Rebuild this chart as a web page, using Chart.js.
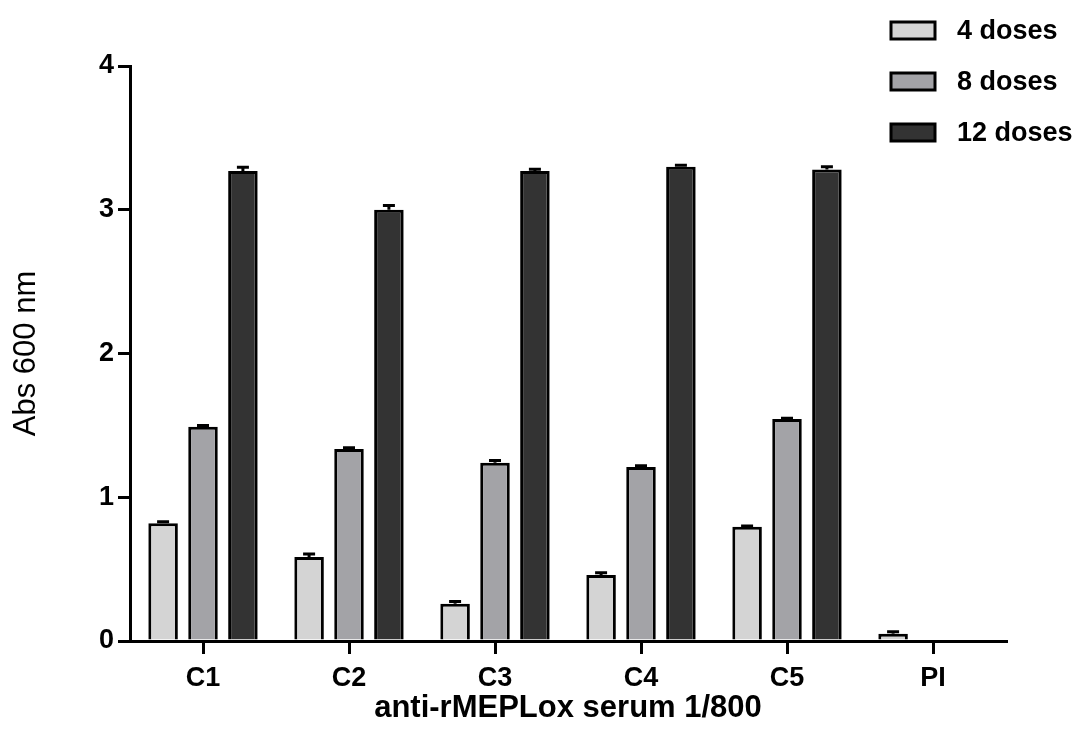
<!DOCTYPE html>
<html>
<head>
<meta charset="utf-8">
<script src="https://cdn.jsdelivr.net/npm/chart.js@4.4.0/dist/chart.umd.min.js"></script>
<style>
  html, body { margin: 0; padding: 0; background: #fff; }
  #wrap { width: 1087px; height: 745px; position: relative; }
</style>
</head>
<body>
<div id="wrap"><canvas id="c" width="1087" height="745"></canvas></div>
<script>
const categories = ["C1", "C2", "C3", "C4", "C5", "PI"];
const seriesLabels = ["4 doses", "8 doses", "12 doses"];
const doses4 = [0.82, 0.585, 0.26, 0.46, 0.795, 0.05];
const doses8 = [1.49, 1.335, 1.24, 1.21, 1.545, null];
const doses12 = [3.27, 3.00, 3.27, 3.30, 3.28, null];
const err4 = [0.01, 0.02, 0.015, 0.015, 0.005, 0.015];
const err8 = [0.01, 0.01, 0.015, 0.01, 0.005, null];
const err12 = [0.025, 0.03, 0.012, 0.01, 0.02, null];
const yTicks = [0, 1, 2, 3, 4];
const colors = ["#d4d4d4", "#a3a3a7", "#333333"];

const FONT = "'Liberation Sans', Arial, sans-serif";

const errorBars = {
  id: 'errorBars',
  afterDatasetsDraw(chart) {
    const ctx = chart.ctx;
    const ys = chart.scales.y;
    chart.data.datasets.forEach((ds, i) => {
      const meta = chart.getDatasetMeta(i);
      meta.data.forEach((bar, j) => {
        const v = ds.data[j];
        const e = ds.errors[j];
        if (v == null || e == null) return;
        const yTop = ys.getPixelForValue(v + e);
        ctx.save();
        ctx.strokeStyle = '#000';
        ctx.lineWidth = 3;
        ctx.beginPath();
        ctx.moveTo(bar.x, bar.y);
        ctx.lineTo(bar.x, yTop);
        ctx.moveTo(bar.x - 6, yTop);
        ctx.lineTo(bar.x + 6, yTop);
        ctx.stroke();
        ctx.restore();
      });
    });
  }
};

const customLegend = {
  id: 'customLegend',
  afterDraw(chart) {
    const ctx = chart.ctx;
    ctx.save();
    chart.data.datasets.forEach((ds, i) => {
      const bx = 891, by = 22 + i * 51, bw = 44, bh = 17;
      ctx.fillStyle = ds.backgroundColor;
      ctx.fillRect(bx, by, bw, bh);
      ctx.strokeStyle = '#000';
      ctx.lineWidth = 3;
      ctx.strokeRect(bx, by, bw, bh);
      ctx.fillStyle = '#000';
      ctx.font = "bold 27px " + FONT;
      ctx.textBaseline = 'middle';
      ctx.textAlign = 'left';
      ctx.fillText(ds.label, 957, by + bh / 2 + 1);
    });
    ctx.restore();
  }
};

new Chart(document.getElementById('c'), {
  type: 'bar',
  data: {
    labels: categories,
    datasets: [
      { label: seriesLabels[0], data: doses4, errors: err4, backgroundColor: colors[0] },
      { label: seriesLabels[1], data: doses8, errors: err8, backgroundColor: colors[1] },
      { label: seriesLabels[2], data: doses12, errors: err12, backgroundColor: colors[2] }
    ].map(d => Object.assign(d, { borderColor: '#000', borderWidth: 3, borderSkipped: 'start' }))
  },
  options: {
    responsive: false,
    animation: false,
    devicePixelRatio: 1,
    categoryPercentage: 0.82,
    barPercentage: 0.74,
    layout: { padding: { top: 66, right: 81, left: 0, bottom: 0 } },
    plugins: {
      legend: { display: false },
      tooltip: { enabled: false }
    },
    scales: {
      x: {
        grid: { display: true, offset: false, drawOnChartArea: false, drawTicks: true, tickLength: 13, color: '#000', lineWidth: 3 },
        border: { display: true, color: '#000', width: 3 },
        ticks: { color: '#000', font: { family: FONT, size: 27, weight: 'bold' }, padding: 8 },
        title: { display: true, text: 'anti-rMEPLox serum 1/800', color: '#000',
                 font: { family: FONT, size: 31, weight: 'bold' }, padding: { top: 0, bottom: 18 } },
        afterFit(scale) { scale.height = 104; }
      },
      y: {
        min: 0, max: 4,
        afterBuildTicks(scale) { scale.ticks = yTicks.map(v => ({ value: v })); },
        grid: { display: true, drawOnChartArea: false, drawTicks: true, tickLength: 12, color: '#000', lineWidth: 3 },
        border: { display: true, color: '#000', width: 3 },
        ticks: { color: '#000', font: { family: FONT, size: 27, weight: 'bold' }, padding: 4 },
        title: { display: true, text: 'Abs 600 nm', color: '#000',
                 font: { family: FONT, size: 31, weight: 'normal' }, padding: { top: 8, bottom: 0 } },
        afterFit(scale) { scale.width = 130; }
      }
    }
  },
  plugins: [errorBars, customLegend]
});
</script>
</body>
</html>
